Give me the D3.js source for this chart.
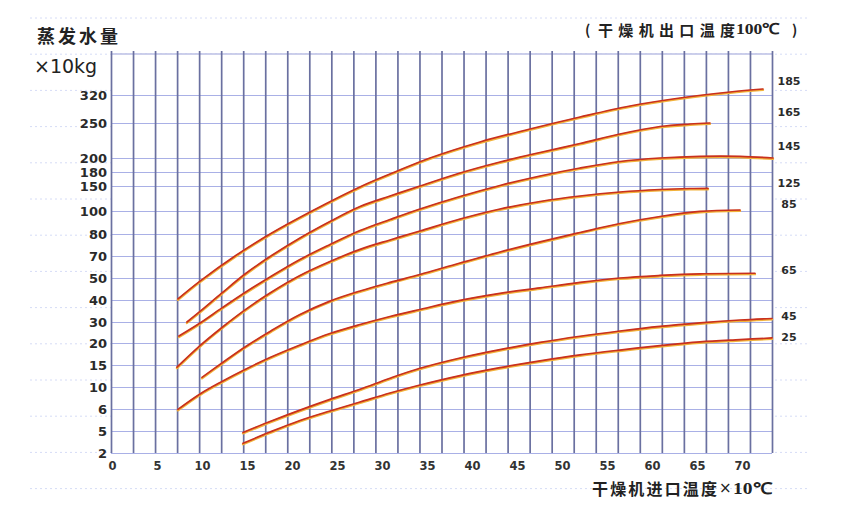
<!DOCTYPE html>
<html><head><meta charset="utf-8">
<script src="https://cdn.jsdelivr.net/npm/d3@7"></script>
<style>body{margin:0;background:#fff}svg{display:block}</style>
</head><body><svg id="c" width="850" height="521"></svg>
<script>
// ---------- data ----------
const xTicks = [0,5,10,15,20,25,30,35,40,45,50,55,60,65,70];
const yTicks = [2,5,6,10,15,20,30,40,50,70,80,100,150,180,200,250,320];
const seriesNames = ["185","165","145","125","85","65","45","25"];
// level (in chart units) at which each right-hand label sits
const seriesLabelLevel = [355, 277, 216, 156, 114, 56.4, 32.7, 22.4];

const s185 = [[7.33,40.5],[9.78,48.6],[13.67,70],[17.56,80],[22.22,100],[27.78,150],[31.44,180],[35.33,200],[40.89,222.9],[46.44,241.4],[52.0,265],[57.56,292.5],[63.11,312.5],[68.67,327.5],[72.33,335]];
const s165 = [[8.33,30],[9.78,34.8],[12.22,43.2],[14.78,53.6],[17.56,69.5],[20.89,78.2],[24.22,90.9],[27.56,109],[30.89,130],[34.22,150],[38.67,177.9],[43.11,194.3],[47.56,207.9],[52.0,220.7],[56.44,234.3],[60.89,245],[64.22,248.6],[66.44,250]];
const s145 = [[7.44,23.3],[9.78,29.5],[12.22,36.4],[14.78,43.4],[17.56,50.9],[20.89,66.8],[24.22,75.2],[27.56,83.0],[30.89,92.6],[34.22,104],[38.67,129],[43.11,151.1],[47.56,171.4],[52.0,185.7],[56.44,195],[60.89,200],[65.33,202.4],[69.78,202.4],[73.44,200]];
const s125 = [[7.22,14.5],[9.78,19.4],[12.22,27.4],[14.78,35.5],[17.56,43.2],[20.89,52.3],[24.22,65.0],[27.56,73.0],[30.89,77.3],[34.22,82.6],[38.67,93.0],[43.11,104],[47.56,119],[52.0,130],[56.44,138],[60.89,143],[64.22,145],[66.22,145.4]];
const s85 = [[10.0,12.2],[12.22,15.45],[14.78,19.1],[17.56,25.5],[20.89,33.4],[24.22,39.5],[27.56,44.1],[30.89,48.0],[34.22,53.2],[38.67,63.6],[43.11,71.8],[47.56,76.4],[52.0,81.3],[56.44,89.1],[60.89,95.2],[65.33,99.6],[69.78,102]];
const s65 = [[7.33,5.98],[9.78,8.73],[12.22,11.25],[14.78,13.98],[17.56,16.7],[20.89,19.55],[24.22,24.5],[27.56,28.8],[30.89,32.5],[34.22,35.7],[38.67,39.8],[43.11,43.0],[47.56,45.5],[52.0,48.0],[56.44,50],[60.89,52.3],[65.33,53.8],[71.44,54.3]];
const s45 = [[14.56,4.8],[17.56,5.43],[20.89,5.95],[24.22,7.75],[27.56,9.6],[30.89,12.0],[34.22,14.25],[38.67,16.6],[43.11,18.5],[47.56,20.3],[52.0,23.2],[56.44,25.7],[60.89,27.9],[65.33,29.6],[69.78,30.9],[73.33,31.6]];
const s25 = [[14.56,3.32],[17.56,4.86],[20.89,5.48],[24.22,5.91],[27.56,7.27],[30.89,8.9],[34.22,10.45],[38.67,12.6],[43.11,14.4],[47.56,15.95],[52.0,17.3],[56.44,18.4],[60.89,19.4],[65.33,20.5],[69.78,21.6],[73.33,22.4]];
const series = [s185, s165, s145, s125, s85, s65, s45, s25];

// ---------- layout ----------
const L = 111, R = 772, T = 54, B = 453;
// vertical position of each y tick row (the printed scale is not uniform)
const yRows = [453,431,409,387,365,343,322,300,278,256,234,211,186,172,158,123,95];
const gridCols = 30;

const svg = d3.select("#c");
const x = d3.scaleLinear().domain([0, 70]).range([112, 742]);
const y = d3.scaleLinear().domain(yTicks).range(yRows);
const gx = d3.scaleLinear().domain([0, gridCols]).range([L, R]);

// faint scan guide lines
svg.append("g").selectAll("line").data(d3.range(18, 500, 36.2)).join("line")
  .attr("x1", 30).attr("x2", 808).attr("y1", d => d).attr("y2", d => d)
  .attr("stroke", "#d6dcf6").attr("stroke-width", 1).attr("stroke-dasharray", "2,3");
svg.append("rect").attr("x", L).attr("y", T).attr("width", R - L).attr("height", B - T).attr("fill", "#fff");

// horizontal grid
const hg = svg.append("g").attr("transform", `translate(${L},0)`)
  .call(d3.axisLeft(y).tickValues(yTicks).tickSize(-(R - L)).tickFormat(""));
hg.select(".domain").remove();
hg.selectAll("line").attr("stroke", "#a9b0e6").attr("stroke-width", 1.2);
svg.append("line").attr("x1", L).attr("x2", R).attr("y1", T).attr("y2", T)
  .attr("stroke", "#9aa0d8").attr("stroke-width", 1.2);

// vertical grid
const vg = svg.append("g").attr("transform", `translate(0,${B})`)
  .call(d3.axisBottom(gx).tickValues(d3.range(0, gridCols + 1)).tickSize(-(B - T + 3)).tickFormat(""));
vg.select(".domain").remove();
vg.selectAll("line").attr("stroke", "#6a70a0").attr("stroke-width", 1.7);

// y axis labels
const ya = svg.append("g").attr("transform", `translate(${L},0)`)
  .call(d3.axisLeft(y).tickValues(yTicks).tickSize(0).tickPadding(4).tickFormat(d3.format("d")));
ya.select(".domain").remove();
ya.selectAll("text").attr("font-family", "DejaVu Sans").attr("font-weight", "bold")
  .attr("font-size", 13).attr("fill", "#2a2a2a");

// x axis labels
const xa = svg.append("g").attr("transform", `translate(0,${B})`)
  .call(d3.axisBottom(x).tickValues(xTicks).tickSize(0).tickPadding(9).tickFormat(d3.format("d")));
xa.select(".domain").remove();
xa.selectAll("text").attr("font-family", "DejaVu Sans").attr("font-weight", "bold")
  .attr("font-size", 11.5).attr("fill", "#333");

// curves
const line = d3.line().x(d => x(d[0])).y(d => y(d[1])).curve(d3.curveCatmullRom.alpha(0.5));
const cg = svg.append("g");
cg.selectAll("path.halo").data(series).join("path").attr("class", "halo")
  .attr("d", line).attr("fill", "none").attr("stroke", "#f2b23a").attr("stroke-width", 2.4)
  .attr("transform", "translate(0,0.9)").attr("stroke-linecap", "round");
cg.selectAll("path.core").data(series).join("path").attr("class", "core")
  .attr("d", line).attr("fill", "none").attr("stroke", "#c9301e").attr("stroke-width", 1.7)
  .attr("stroke-linecap", "round");

// right-hand curve labels
svg.append("g").selectAll("text").data(seriesNames).join("text")
  .attr("x", 789).attr("y", (d, i) => y(seriesLabelLevel[i]))
  .attr("text-anchor", "middle").attr("dominant-baseline", "central")
  .attr("font-family", "DejaVu Sans").attr("font-weight", "bold").attr("font-size", 11)
  .attr("fill", "#2a2a2a").text(d => d);

// titles
const cjk = "'Noto Sans CJK SC', sans-serif";
svg.append("text").attr("x", 37).attr("y", 35).attr("dominant-baseline", "central")
  .attr("font-family", cjk).attr("font-weight", "bold").attr("font-size", 18)
  .attr("letter-spacing", 3).attr("fill", "#222").text("蒸发水量");
svg.append("text").attr("x", 34).attr("y", 66).attr("dominant-baseline", "central")
  .attr("font-family", "DejaVu Sans").attr("font-size", 19).attr("fill", "#222").text("×10kg");

// top-right note
const note = svg.append("g").attr("fill", "#222");
note.append("text").attr("x", 585).attr("y", 29).attr("dominant-baseline", "central")
  .attr("font-family", cjk).attr("font-weight", "bold").attr("font-size", 14).text("(");
note.append("text").attr("x", 598).attr("y", 29).attr("dominant-baseline", "central")
  .attr("font-family", cjk).attr("font-weight", "bold").attr("font-size", 15)
  .attr("textLength", 137).attr("lengthAdjust", "spacing").text("干燥机出口温度");
note.append("text").attr("x", 736).attr("y", 29).attr("dominant-baseline", "central")
  .attr("font-family", "Liberation Serif").attr("font-weight", "bold").attr("font-size", 15)
  .attr("textLength", 44).attr("lengthAdjust", "spacingAndGlyphs").text("100℃");
note.append("text").attr("x", 792).attr("y", 29).attr("dominant-baseline", "central")
  .attr("font-family", cjk).attr("font-weight", "bold").attr("font-size", 14).text(")");

// x axis title
const xt = svg.append("g").attr("fill", "#222");
xt.append("text").attr("x", 592).attr("y", 488).attr("dominant-baseline", "central")
  .attr("font-family", cjk).attr("font-weight", "bold").attr("font-size", 16)
  .attr("textLength", 125).attr("lengthAdjust", "spacing").text("干燥机进口温度");
xt.append("text").attr("x", 719).attr("y", 488).attr("dominant-baseline", "central")
  .attr("font-family", "DejaVu Sans").attr("font-size", 15).text("×");
xt.append("text").attr("x", 733).attr("y", 488).attr("dominant-baseline", "central")
  .attr("font-family", "Liberation Serif").attr("font-weight", "bold").attr("font-size", 16)
  .attr("textLength", 39).attr("lengthAdjust", "spacingAndGlyphs").text("10℃");
</script>
</body></html>
